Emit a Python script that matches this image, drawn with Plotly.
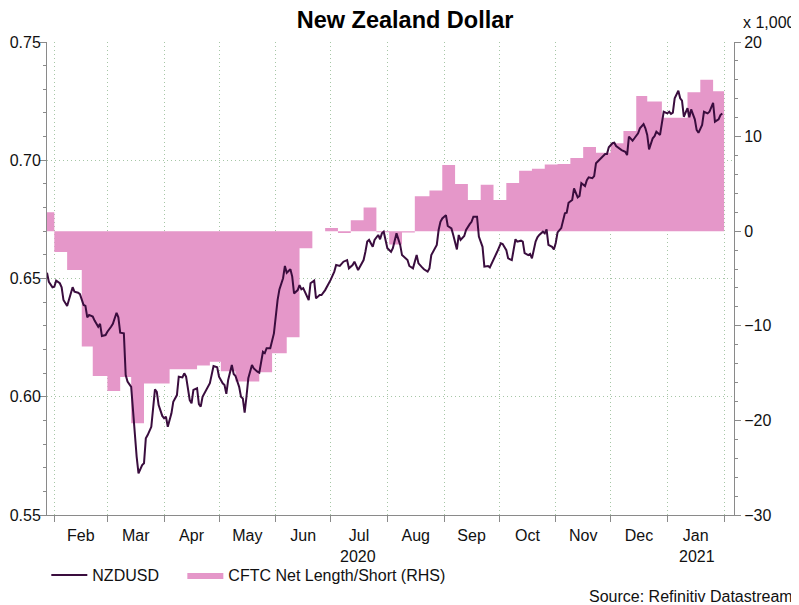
"""
plot.py - NZD/USD against CFTC net positioning, Datastream style chart.
"""
import pandas as pd
import plotly.graph_objects as go

FONT = "Liberation Sans, Arial, sans-serif"
LINE_COLOR = "#3A0D3E"
AREA_COLOR = "#E597C9"
GRID_COLOR = "#A6C6A6"
AXIS_COLOR = "#8A8A8A"
GRID_DASH = "1px,3px"

# NZDUSD spot: calendar days after 1 Feb 2020, and the rate on that day
nzd_day = [
    -4, -3, -1, 0, 1, 3, 4, 5, 7, 8, 10, 11, 13, 14, 16, 17, 18, 19, 21, 22,
    24, 25, 26, 28, 29, 31, 32, 34, 35, 36, 38, 39, 40, 42, 43, 45, 46, 48, 49, 50,
    51, 53, 55, 56, 57, 59, 60, 61, 62, 64, 65, 67, 68, 70, 71, 72, 74, 75, 76, 78,
    79, 80, 81, 82, 84, 85, 87, 89, 90, 92, 93, 94, 95, 97, 98, 99, 101, 102, 103, 104,
    105, 106, 108, 109, 111, 112, 114, 115, 116, 118, 120, 121, 122, 123, 125, 126, 127, 129, 130, 131,
    133, 134, 135, 136, 137, 139, 140, 142, 143, 145, 146, 148, 151, 153, 154, 156, 158, 159, 160, 161,
    163, 164, 166, 167, 169, 170, 171, 172, 174, 175, 177, 178, 179, 180, 181, 182, 184, 185, 187, 189,
    190, 192, 193, 194, 196, 198, 199, 201, 202, 204, 205, 206, 208, 209, 210, 211, 212, 214, 215, 217,
    218, 220, 221, 222, 224, 225, 227, 228, 229, 231, 232, 234, 235, 237, 238, 240, 242, 244, 245, 247,
    248, 250, 252, 253, 255, 256, 257, 259, 260, 261, 263, 264, 265, 267, 268, 269, 270, 272, 273, 274,
    275, 277, 279, 280, 281, 283, 284, 286, 287, 288, 290, 291, 292, 294, 295, 296, 298, 299, 301, 302,
    303, 305, 306, 307, 309, 310, 312, 313, 314, 316, 317, 319, 320, 322, 323, 324, 325, 327, 328, 329,
    331, 332, 333, 335, 336, 337, 338, 339, 341, 342, 343, 344, 346, 347, 348, 350, 351, 352, 354, 355,
    357, 358, 359, 360, 361, 363, 364, 365,
]
nzd_usd = [
    0.6524, 0.6486, 0.6463, 0.6465, 0.6491, 0.6480, 0.6463, 0.6409, 0.6384, 0.6409,
    0.6463, 0.6444, 0.6440, 0.6434, 0.6388, 0.6384, 0.6336, 0.6346, 0.6339, 0.6322,
    0.6296, 0.6308, 0.6257, 0.6261, 0.6275, 0.6296, 0.6308, 0.6355, 0.6336, 0.6271,
    0.6268, 0.6092, 0.6064, 0.6042, 0.5930, 0.5746, 0.5676, 0.5711, 0.5719, 0.5824,
    0.5838, 0.5873, 0.6031, 0.6021, 0.5965, 0.5919, 0.5909, 0.5916, 0.5873, 0.5930,
    0.5979, 0.6007, 0.6085, 0.6082, 0.6099, 0.6085, 0.5986, 0.5972, 0.6029, 0.6036,
    0.5969, 0.5958, 0.6000, 0.6015, 0.6046, 0.6057, 0.6130, 0.6125, 0.6085, 0.6057,
    0.6050, 0.6012, 0.6071, 0.6134, 0.6096, 0.6088, 0.6042, 0.6000, 0.5993, 0.5933,
    0.6000, 0.6078, 0.6134, 0.6120, 0.6106, 0.6102, 0.6190, 0.6184, 0.6205, 0.6205,
    0.6268, 0.6346, 0.6409, 0.6454, 0.6501, 0.6553, 0.6524, 0.6539, 0.6508, 0.6437,
    0.6451, 0.6472, 0.6454, 0.6459, 0.6444, 0.6409, 0.6480, 0.6491, 0.6416, 0.6430,
    0.6430, 0.6451, 0.6494, 0.6529, 0.6557, 0.6553, 0.6571, 0.6575, 0.6578, 0.6543,
    0.6557, 0.6571, 0.6536, 0.6550, 0.6578, 0.6613, 0.6656, 0.6663, 0.6634, 0.6663,
    0.6684, 0.6666, 0.6691, 0.6698, 0.6666, 0.6628, 0.6613, 0.6628, 0.6691, 0.6642,
    0.6599, 0.6585, 0.6578, 0.6553, 0.6543, 0.6599, 0.6564, 0.6547, 0.6539, 0.6529,
    0.6543, 0.6599, 0.6628, 0.6642, 0.6705, 0.6740, 0.6754, 0.6768, 0.6722, 0.6712,
    0.6684, 0.6623, 0.6684, 0.6663, 0.6680, 0.6705, 0.6730, 0.6740, 0.6761, 0.6761,
    0.6677, 0.6634, 0.6550, 0.6553, 0.6547, 0.6578, 0.6613, 0.6649, 0.6646, 0.6620,
    0.6585, 0.6578, 0.6666, 0.6656, 0.6660, 0.6656, 0.6607, 0.6599, 0.6604, 0.6585,
    0.6656, 0.6674, 0.6684, 0.6698, 0.6691, 0.6708, 0.6642, 0.6634, 0.6623, 0.6650,
    0.6695, 0.6713, 0.6776, 0.6778, 0.6820, 0.6832, 0.6881, 0.6843, 0.6849, 0.6903,
    0.6891, 0.6916, 0.6928, 0.6924, 0.6933, 0.6987, 0.7004, 0.7012, 0.7026, 0.7026,
    0.7055, 0.7072, 0.7074, 0.7060, 0.7046, 0.7043, 0.7036, 0.7022, 0.7100, 0.7083,
    0.7093, 0.7114, 0.7135, 0.7153, 0.7135, 0.7107, 0.7046, 0.7093, 0.7102, 0.7121,
    0.7107, 0.7149, 0.7205, 0.7198, 0.7205, 0.7196, 0.7201, 0.7262, 0.7294, 0.7262,
    0.7252, 0.7184, 0.7220, 0.7182, 0.7215, 0.7173, 0.7128, 0.7116, 0.7149, 0.7205,
    0.7198, 0.7205, 0.7226, 0.7243, 0.7163, 0.7173, 0.7191, 0.7198,
]

# CFTC net length/short in NZD futures, thousands of contracts (weekly)
cftc_date = [
    "2020-01-25", "2020-02-01", "2020-02-08", "2020-02-16", "2020-02-22", "2020-03-01",
    "2020-03-08", "2020-03-14", "2020-03-21", "2020-03-28", "2020-04-04", "2020-04-12",
    "2020-04-19", "2020-04-26", "2020-05-02", "2020-05-10", "2020-05-18", "2020-05-23",
    "2020-05-30", "2020-06-07", "2020-06-14", "2020-06-21", "2020-06-28", "2020-07-05",
    "2020-07-12", "2020-07-19", "2020-07-26", "2020-08-02", "2020-08-09", "2020-08-16",
    "2020-08-24", "2020-08-31", "2020-09-07", "2020-09-14", "2020-09-21", "2020-09-28",
    "2020-10-05", "2020-10-12", "2020-10-19", "2020-10-26", "2020-11-02", "2020-11-09",
    "2020-11-16", "2020-11-23", "2020-12-01", "2020-12-08", "2020-12-15", "2020-12-21",
    "2020-12-29", "2021-01-05", "2021-01-12", "2021-01-19", "2021-01-26", "2021-02-01",
]
cftc_net = [
    2.0, -2.2, -4.1, -12.2, -15.3, -16.9,
    -15.4, -20.3, -16.1, -16.1, -14.6, -14.6,
    -14.2, -13.8, -14.8, -15.9, -15.9, -14.9,
    -12.9, -11.2, -1.8, 0.0, 0.35, -0.2,
    1.15, 2.5, -0.1, -1.4, -0.15, 3.7,
    4.3, 7.0, 5.0, 3.3, 4.9, 3.3,
    5.1, 6.4, 6.6, 7.05, 7.1, 7.75,
    8.9, 8.3, 9.3, 10.6, 14.3, 13.7,
    12.0, 12.0, 14.7, 16.0, 14.8, 14.8,
]

year_labels = ["2020", "2021"]
year_label_dates = ["2020-07-16", "2021-01-17"]

nzd_dates = pd.Timestamp("2020-02-01") + pd.to_timedelta(nzd_day, unit="D")

AXIS_BASE = dict(
    showline=True, linecolor=AXIS_COLOR, linewidth=1,
    ticks="outside", tickcolor=AXIS_COLOR, ticklen=6,
    tickfont=dict(family=FONT, size=16, color="#111111"),
    zeroline=False, automargin=False,
)
LEGEND_BASE = dict(
    orientation="h", xanchor="left", y=-0.127, yanchor="middle", itemwidth=36,
    font=dict(family=FONT, size=16, color="#111111"), bgcolor="rgba(0,0,0,0)",
)

fig = go.Figure()

# area first on the primary (right-hand) axis so the line overlay sits on top
fig.add_trace(go.Scatter(
    x=cftc_date, y=cftc_net, name="CFTC Net Length/Short (RHS)",
    mode="lines", line=dict(shape="hv", width=0, color=AREA_COLOR),
    fill="tozeroy", fillcolor=AREA_COLOR, yaxis="y", legend="legend2",
))
fig.add_trace(go.Scatter(
    x=nzd_dates, y=nzd_usd, name="NZDUSD",
    mode="lines", line=dict(color=LINE_COLOR, width=2), yaxis="y2", legend="legend",
))

# the page body adds an 8px offset, so the figure is 8px smaller than the window
fig.update_layout(
    template="none",
    width=791, height=597,
    paper_bgcolor="white", plot_bgcolor="white",
    margin=dict(l=39, r=65, t=34, b=90),
    font=dict(family=FONT, size=16, color="#111111"),
    title=dict(text="<b>New Zealand Dollar</b>", x=0.502, xanchor="center",
               y=0.981, yanchor="middle", yref="container",
               font=dict(family=FONT, size=23.5, color="#000000")),
    xaxis=dict(
        **AXIS_BASE,
        type="date", range=["2020-01-28", "2021-02-06 10:00"],
        tick0="2020-01-01", dtick="M1", tickformat="%b", ticklabelmode="period",
        showgrid=True, gridcolor=GRID_COLOR, griddash=GRID_DASH, gridwidth=1,
    ),
    yaxis=dict(
        **AXIS_BASE,
        side="right", range=[-30, 20], dtick=10, showgrid=False,
        minor=dict(dtick=2, ticklen=3, tickcolor=AXIS_COLOR, showgrid=False),
    ),
    yaxis2=dict(
        **AXIS_BASE,
        side="left", overlaying="y", anchor="x",
        range=[0.55, 0.75], dtick=0.05, tickformat=".2f", ticklabelstandoff=-4,
        showgrid=True, gridcolor=GRID_COLOR, griddash=GRID_DASH, gridwidth=1,
        minor=dict(dtick=0.01, ticklen=3, tickcolor=AXIS_COLOR, showgrid=False),
    ),
    legend=dict(**LEGEND_BASE, x=-0.001),
    legend2=dict(**LEGEND_BASE, x=0.197),
    showlegend=True,
)

annotations = [
    dict(text="x 1,000", x=1.0102, y=1.042, xref="paper", yref="paper",
         xanchor="left", yanchor="middle", showarrow=False),
    dict(text="Source: Refinitiv Datastream", x=1.0888, y=-0.173, xref="paper", yref="paper",
         xanchor="right", yanchor="middle", showarrow=False),
    dict(text="Contracts", x=1.0975, y=0.503, xref="paper", yref="paper",
         xanchor="center", yanchor="middle", textangle=90, showarrow=False),
]
for label, when in zip(year_labels, year_label_dates):
    annotations.append(dict(text=label, x=when, y=-0.0867, xref="x", yref="paper",
                            xanchor="center", yanchor="middle", showarrow=False))
fig.update_layout(annotations=annotations)

fig.write_html("out.html")
